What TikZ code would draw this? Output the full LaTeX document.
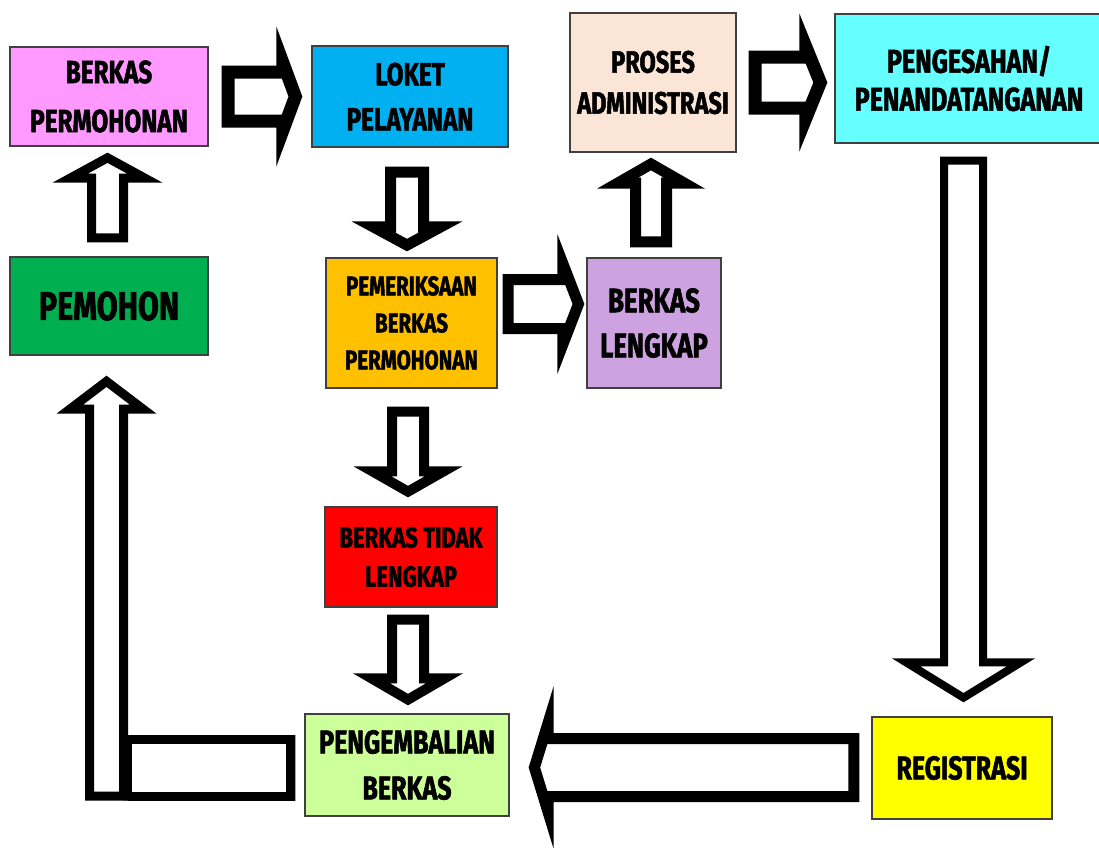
\documentclass[tikz,border=0pt]{standalone}
\usepackage{fontspec}
\usetikzlibrary{calc}
\newfontfamily\boxfont{Fira Sans}[FakeStretch=0.76, FakeBold=1.6]

\definecolor{cbp}{HTML}{FF99FF}
\definecolor{clk}{HTML}{00B0F0}
\definecolor{cpr}{HTML}{FBE5D6}
\definecolor{csh}{HTML}{66FFFF}
\definecolor{cpm}{HTML}{00B050}
\definecolor{cpe}{HTML}{FFC000}
\definecolor{clg}{HTML}{CCA3E0}
\definecolor{ctd}{HTML}{FF0000}
\definecolor{ckb}{HTML}{CCFF99}
\definecolor{crg}{HTML}{FFFF00}

% outline of a block arrow from (fa-s) to (fa-t), head base at (fa-h)
\newcommand{\fatpoly}[2]{($(fa-s)!#1pt!90:(fa-t)$) -- ($(fa-h)!#1pt!90:(fa-t)$) -- ($(fa-h)!#2pt!90:(fa-t)$) -- (fa-t) -- ($(fa-h)!#2pt!-90:(fa-t)$) -- ($(fa-h)!#1pt!-90:(fa-t)$) -- ($(fa-s)!#1pt!-90:(fa-t)$) -- cycle}
% [line width]{start}{tip}{half shaft}{half head}{head length}
\newcommand{\fatarrow}[6][10]{%
  \coordinate (fa-s) at (#2);
  \coordinate (fa-t) at (#3);
  \coordinate (fa-h) at ($(fa-t)!#6pt!(fa-s)$);
  \begin{scope}
    \clip \fatpoly{#4}{#5};
    \draw[line width=2*#1, fill=white] \fatpoly{#4}{#5};
  \end{scope}}
% [line width]{corner}{corner}
\newcommand{\fatbar}[3][10]{%
  \begin{scope}
    \clip (#2) rectangle (#3);
    \draw[line width=2*#1, fill=white] (#2) rectangle (#3);
  \end{scope}}

\begin{document}
\begin{tikzpicture}[
    x=1pt, y=-1pt,
    box/.style={draw=black!75, line width=1.3pt, align=center, inner sep=0pt, text=black},
    fnt/.style 2 args={font=\boxfont\bfseries\fontsize{#1}{#2}\selectfont},
]
\useasboundingbox (0,0) rectangle (1099,847);

% ============ boxes ============
\node[box, fill=cbp, minimum width=198, minimum height=99, fnt={32}{49}] (bp) at (109,96.5) {BERKAS\\PERMOHONAN};
\node[box, fill=clk, minimum width=196, minimum height=101, fnt={32}{45}] (lk) at (410,96.5) {LOKET\\PELAYANAN};
\node[box, fill=cpr, minimum width=166, minimum height=139, fnt={31}{41}] (pr) at (653,82.5) {PROSES\\ADMINISTRASI};
\node[box, fill=csh, minimum width=268, minimum height=129, fnt={33}{38}] (sh) at (969,78.5) {PENGESAHAN/\\PENANDATANGANAN};

\node[box, fill=cpm, minimum width=198, minimum height=98, fnt={40}{48}] (pm) at (109,306) {PEMOHON};
\node[box, fill=cpe, minimum width=171, minimum height=130, fnt={27}{37}] (pe) at (411.5,323) {PEMERIKSAAN\\BERKAS\\PERMOHONAN};
\node[box, fill=clg, minimum width=134, minimum height=130, fnt={34}{45}] (lg) at (654,323) {BERKAS\\LENGKAP};

\node[box, fill=ctd, minimum width=172, minimum height=100, fnt={29}{39}] (td) at (411,557) {BERKAS TIDAK\\LENGKAP};
\node[box, fill=ckb, minimum width=204, minimum height=102, fnt={33}{46}] (kb) at (407,765) {PENGEMBALIAN\\BERKAS};
\node[box, fill=crg, minimum width=180, minimum height=102, fnt={33}{40}] (rg) at (962,768) {REGISTRASI};

% ============ arrows ============
\fatarrow[13]{$(bp.east)+(13,0)$}{$(lk.west)+(-9,0)$}{31}{70}{26}
\fatarrow[13]{$(pr.east)+(12,0)$}{$(pr.east -| sh.west)+(-7,0)$}{32}{69}{28}
\fatarrow[9]{$(pm.north)+(-1.5,-14)$}{$(pm.north |- bp.south)+(-1.5,6)$}{20.5}{55}{30}
\fatarrow[11]{$(lk.south)+(-3,19)$}{$(lk.south |- pe.north)+(-3,-6)$}{22}{55.5}{30}
\fatarrow[11]{$(pe.east)+(5,-19)$}{$(pe.east -| lg.west)+(-2,-19)$}{30}{70}{27}
\fatarrow[11]{$(lg.north)+(-3,-10)$}{$(lg.north |- pr.south)+(-3,5)$}{21}{54}{31}
\fatarrow[10]{$(pe.south)+(-3.5,18)$}{$(pe.south |- td.north)+(-3.5,-9)$}{21}{54.5}{31}
\fatarrow[10]{$(td.south)+(-3,7)$}{$(td.south |- kb.north)+(-3,-8)$}{21}{55}{32}
\fatarrow[8]{$(sh.south)+(-5.5,13)$}{$(sh.south |- rg.north)+(-5.5,-14)$}{23.5}{71.5}{44}
\fatarrow[11]{$(rg.west)+(-12,-0.5)$}{$(rg.west -| kb.east)+(19,-0.5)$}{34.5}{81.5}{25}

% back to the applicant
\fatbar[9]{$(kb.west)+(-9,-30)$}{$(pm.south |- kb.south)+(14,-16)$}
\fatarrow[9]{$(pm.south |- kb.south)+(-2.5,-16)$}{$(pm.south)+(-2.5,20)$}{21.5}{50}{38}

\end{tikzpicture}
\end{document}
